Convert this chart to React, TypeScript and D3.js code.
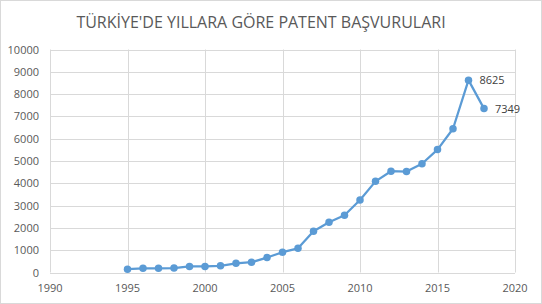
import React from "react";
import * as d3 from "d3";

const years = [1995,1996,1997,1998,1999,2000,2001,2002,2003,2004,2005,2006,2007,2008,2009,2010,2011,2012,2013,2014,2015,2016,2017,2018];
const applications = [150,185,185,200,270,270,300,410,460,670,910,1085,1850,2250,2570,3250,4087,4543,4528,4878,5512,6445,8625,7349];
const xTicks = [1990,1995,2000,2005,2010,2015,2020];
const yTicks = [0,1000,2000,3000,4000,5000,6000,7000,8000,9000,10000];
const labelled = [2017, 2018];
const title = "TÜRKİYE'DE YILLARA GÖRE PATENT BAŞVURULARI";

const W = 542, H = 304;
const font = "'Open Sans', 'Liberation Sans', sans-serif";

export default function App() {
  const x = d3.scaleLinear().domain([1990, 2020]).range([50, 515]);
  const y = d3.scaleLinear().domain([0, 10000]).range([272.5, 49.5]);
  const data = years.map((yr, i) => ({ yr, v: applications[i] }));
  const line = d3.line<{ yr: number; v: number }>().x(d => x(d.yr)).y(d => y(d.v));
  return (
    <svg width={W} height={H} style={{ position: "absolute", left: 0, top: 0, fontFamily: font }}>
      <rect x={0.5} y={0.5} width={W - 1} height={H - 1} fill="#fff" stroke="#d9d9d9" />
      <text x={261} y={28} textAnchor="middle" fontSize={16} fill="#595959">{title}</text>
      {yTicks.map(t => (
        <g key={"y" + t}>
          <line x1={50} x2={515} y1={Math.round(y(t)) + 0.5} y2={Math.round(y(t)) + 0.5} stroke="#d9d9d9" strokeWidth={1} />
          <text x={39} y={y(t) + 4} textAnchor="end" fontSize={11} fill="#595959">{t}</text>
        </g>
      ))}
      {xTicks.map(t => (
        <g key={"x" + t}>
          <line y1={49.5} y2={272.5} x1={Math.round(x(t)) + 0.5} x2={Math.round(x(t)) + 0.5} stroke="#d9d9d9" strokeWidth={1} />
          <text x={x(t)} y={292} textAnchor="middle" fontSize={11} fill="#595959">{t}</text>
        </g>
      ))}
      <path d={line(data) || ""} fill="none" stroke="#5b9bd5" strokeWidth={2.25} strokeLinejoin="round" />
      {data.map(d => (
        <circle key={d.yr} cx={x(d.yr)} cy={y(d.v)} r={3.75} fill="#5b9bd5" />
      ))}
      {data.filter(d => labelled.includes(d.yr)).map(d => (
        <text key={"l" + d.yr} x={x(d.yr) + 11} y={y(d.v) + 4} fontSize={11} fill="#404040">{d.v}</text>
      ))}
    </svg>
  );
}
